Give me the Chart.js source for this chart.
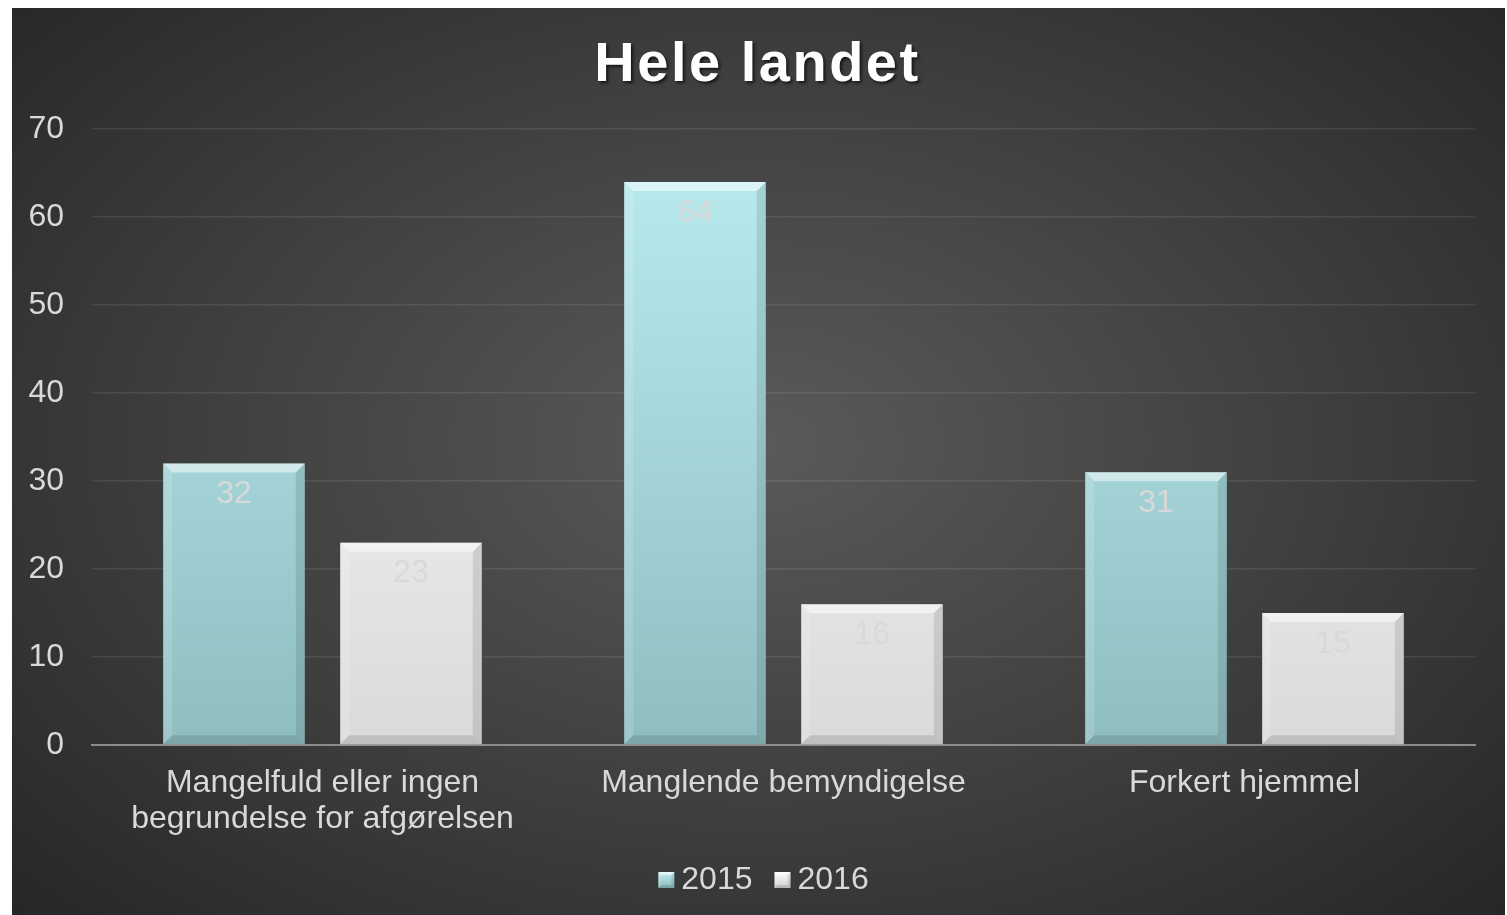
<!DOCTYPE html>
<html><head><meta charset="utf-8">
<script src="https://cdn.jsdelivr.net/npm/chart.js@4"></script>
<style>
html,body{margin:0;padding:0;background:#fff;width:1507px;height:915px;overflow:hidden;}
#wrap{position:absolute;left:12px;top:8px;width:1493px;height:907px;
background:radial-gradient(ellipse 70% 75% at 50% 48%, #5a5a5a 0%, #3e3e3e 55%, #262626 100%);}
</style></head>
<body><div id="wrap"><canvas id="c" width="1493" height="907"></canvas></div>
<script>
const titleText = "Hele landet";
const categories = [["Mangelfuld eller ingen","begrundelse for afgørelsen"],"Manglende bemyndigelse","Forkert hjemmel"];
const seriesNames = ["2015","2016"];
const values2015 = [32,64,31];
const values2016 = [23,16,15];
const yTicksMin = 0, yTicksMax = 70, yTicksStep = 10;
const legendTop = ['#c4f0f2','#ffffff'];
const legendBottom = ['#88b8bb','#d0d0d0'];
const legendShift = 20, titleShift = 14;

function grad(ctx, top, bottom){
  const ch = ctx.chart; const a = ch.chartArea;
  if(!a) return top;
  const g = ch.ctx.createLinearGradient(0,a.top,0,a.bottom);
  g.addColorStop(0,top); g.addColorStop(1,bottom); return g;
}

function bevelRect(ctx,l,t,r,b,s){
  ctx.fillStyle='rgba(255,255,255,0.5)';
  ctx.beginPath();ctx.moveTo(l,t);ctx.lineTo(r,t);ctx.lineTo(r-s,t+s);ctx.lineTo(l+s,t+s);ctx.closePath();ctx.fill();
  ctx.fillStyle='rgba(255,255,255,0.15)';
  ctx.beginPath();ctx.moveTo(l,t);ctx.lineTo(l+s,t+s);ctx.lineTo(l+s,b-s);ctx.lineTo(l,b);ctx.closePath();ctx.fill();
  ctx.fillStyle='rgba(0,0,0,0.1)';
  ctx.beginPath();ctx.moveTo(r,t);ctx.lineTo(r-s,t+s);ctx.lineTo(r-s,b-s);ctx.lineTo(r,b);ctx.closePath();ctx.fill();
  ctx.fillStyle='rgba(0,0,0,0.12)';
  ctx.beginPath();ctx.moveTo(l,b);ctx.lineTo(r,b);ctx.lineTo(r-s,b-s);ctx.lineTo(l+s,b-s);ctx.closePath();ctx.fill();
}

const bevel = {
  id:'bevel',
  afterDatasetsDraw(chart){
    const ctx = chart.ctx;
    chart.data.datasets.forEach((ds,i)=>{
      chart.getDatasetMeta(i).data.forEach(el=>{
        const {x,y,base,width} = el.getProps(['x','y','base','width'],true);
        ctx.save();
        bevelRect(ctx,x-width/2,y,x+width/2,base,9);
        ctx.restore();
      });
    });
  }
};

const labels = {
  id:'vlabels',
  afterDatasetsDraw(chart){
    const ctx = chart.ctx;
    ctx.save();
    ctx.font = '32px "Liberation Sans", Arial, sans-serif';
    ctx.fillStyle = '#d9d9d9';
    ctx.textAlign='center'; ctx.textBaseline='middle';
    chart.data.datasets.forEach((ds,i)=>{
      chart.getDatasetMeta(i).data.forEach((el,j)=>{
        ctx.fillText(String(ds.data[j]), el.x, el.y+31);
      });
    });
    ctx.restore();
  }
};

const legendBoxes = {
  id:'legendBoxes',
  afterDraw(chart){
    const lg = chart.legend; if(!lg || !lg.legendHitBoxes) return;
    const ctx = chart.ctx;
    lg.legendHitBoxes.forEach((h,i)=>{
      const cy = h.top + h.height/2;
      const l = h.left + legendShift, t = cy-8, r = l+16, b = cy+8;
      ctx.save();
      const g = ctx.createLinearGradient(0,t,0,b);
      g.addColorStop(0,legendTop[i]); g.addColorStop(1,legendBottom[i]);
      ctx.fillStyle = g; ctx.fillRect(l,t,16,16);
      bevelRect(ctx,l,t,r,b,3);
      ctx.restore();
    });
  }
};

const styleWrap = {
  id:'styleWrap',
  afterLayout(chart){
    const t = chart.titleBlock;
    if(t && !t._wrapped){
      const d = t.draw.bind(t);
      t.draw = function(){
        const c = chart.ctx; c.save();
        c.translate(titleShift,0);
        c.letterSpacing='2.5px';
        c.shadowColor='rgba(0,0,0,0.65)'; c.shadowOffsetX=2; c.shadowOffsetY=2; c.shadowBlur=3;
        d(); c.restore();
      };
      t._wrapped = true;
    }
    const lg = chart.legend;
    if(lg && !lg._wrapped){
      const d2 = lg.draw.bind(lg);
      lg.draw = function(){
        const c = chart.ctx; c.save(); c.translate(legendShift,0); d2(); c.restore();
      };
      lg._wrapped = true;
    }
  }
};

Chart.defaults.font.family = '"Liberation Sans", Arial, sans-serif';
Chart.defaults.color = '#d9d9d9';

new Chart(document.getElementById('c'),{
  type:'bar',
  data:{
    labels:categories,
    datasets:[
      {label:seriesNames[0], data:values2015,
       backgroundColor:c=>grad(c,'#bbedf0','#8fbec1'),
       categoryPercentage:0.768, barPercentage:0.8},
      {label:seriesNames[1], data:values2016,
       backgroundColor:c=>grad(c,'#ffffff','#dadada'),
       categoryPercentage:0.768, barPercentage:0.8}
    ]
  },
  options:{
    responsive:false, animation:false,
    layout:{padding:{left:0,right:30,top:0,bottom:9}},
    plugins:{
      title:{display:true,text:titleText,color:'#ffffff',
        font:{size:56,weight:'bold'},padding:{top:24,bottom:30}},
      legend:{position:'bottom',
        labels:{color:'#d9d9d9',font:{size:32},boxWidth:7,boxHeight:14,padding:22,
          generateLabels(chart){
            return chart.data.datasets.map((d,i)=>({text:d.label,fillStyle:'rgba(0,0,0,0)',strokeStyle:'rgba(0,0,0,0)',lineWidth:0,datasetIndex:i,fontColor:'#d9d9d9'}));
          }}},
      tooltip:{enabled:false}
    },
    scales:{
      x:{grid:{display:false,drawTicks:false},
         border:{display:true,color:'#8c8c8c',width:2},
         ticks:{color:'#d9d9d9',font:{size:32,lineHeight:1.13},padding:20,maxRotation:0,autoSkip:false},
         afterFit(s){ s.height = 97; }},
      y:{min:yTicksMin,max:yTicksMax,
         grid:{color:'rgba(255,255,255,0.09)',lineWidth:1.5,drawTicks:false},
         border:{display:false},
         ticks:{stepSize:yTicksStep,color:'#d9d9d9',font:{size:32},padding:28},
         afterFit(s){ s.width = 80; }}
    }
  },
  plugins:[bevel,labels,legendBoxes,styleWrap]
});
</script></body></html>
